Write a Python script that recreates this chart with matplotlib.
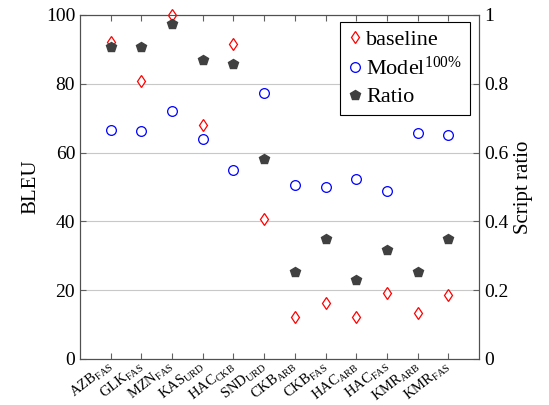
import numpy as np
import matplotlib
matplotlib.use("Agg")
import matplotlib.pyplot as plt

plt.rcParams['font.family'] = ['Liberation Serif', 'DejaVu Serif']
plt.rcParams['mathtext.fontset'] = 'custom'
plt.rcParams['mathtext.rm'] = 'Liberation Serif'
plt.rcParams['mathtext.it'] = 'Liberation Serif:italic'

# data
langs = ["AZB", "GLK", "MZN", "KAS", "HAC", "SND", "CKB", "CKB", "HAC", "HAC", "KMR", "KMR"]
subs = ["FAS", "FAS", "FAS", "URD", "CKB", "URD", "ARB", "FAS", "ARB", "FAS", "ARB", "FAS"]
baseline = [92.2, 80.8, 100.0, 68.0, 91.6, 40.8, 12.2, 16.3, 12.2, 19.2, 13.4, 18.7]
model = [66.6, 66.3, 72.2, 64.0, 55.0, 77.4, 50.7, 50.0, 52.4, 48.9, 65.7, 65.2]
ratio = [0.907, 0.907, 0.975, 0.868, 0.857, 0.581, 0.253, 0.349, 0.230, 0.317, 0.253, 0.349]

x = np.arange(1, len(langs) + 1)
labels = [r"%s$_{\mathrm{%s}}$" % (l, s) for l, s in zip(langs, subs)]

fig = plt.figure(figsize=(5.49, 4.05), dpi=100)
ax = fig.add_axes([0.1457, 0.1136, 0.7268, 0.8494])
ax2 = ax.twinx()

h1, = ax.plot(x, baseline, linestyle='none', marker='d', markersize=6, markerfacecolor='white',
              markeredgecolor='red', markeredgewidth=0.9, clip_on=False, zorder=3)
h2, = ax.plot(x, model, linestyle='none', marker='o', markersize=7, markerfacecolor='none',
              markeredgecolor='blue', markeredgewidth=0.9, clip_on=False, zorder=3)
h3, = ax2.plot(x, ratio, linestyle='none', marker='p', markersize=7, color='#404040', clip_on=False)

ax.set_xlim(0, 13)
ax.set_ylim(0, 100)
ax2.set_ylim(0, 1)
ax.set_yticks([0, 20, 40, 60, 80, 100])
ax2.set_yticks([0, 0.2, 0.4, 0.6, 0.8, 1])
ax2.set_yticklabels(["0", "0.2", "0.4", "0.6", "0.8", "1"])
ax.yaxis.grid(True, color='#c8c8c8', linewidth=0.8)
ax.set_axisbelow(True)

ax.set_xticks(x)
ax.set_xticklabels(labels, rotation=38, ha='right', va='center', rotation_mode='anchor', fontsize=10.5)
ax.tick_params(axis='x', direction='in', top=True, length=4, color='#606060', pad=4)
ax.tick_params(axis='y', direction='in', length=4, labelsize=14, color='#606060')
ax2.tick_params(axis='y', direction='in', length=4, labelsize=14, color='#606060')
ax.set_ylabel("BLEU", fontsize=15)
ax2.set_ylabel("Script ratio", fontsize=15)
for sp in ax.spines.values():
    sp.set_color('#505050')
for sp in ax2.spines.values():
    sp.set_color('#505050')

leg = ax2.legend([h1, h2, h3], ['baseline', r'Model$^{100\%}$', 'Ratio'], loc='upper right',
                 prop={'family': 'Liberation Serif', 'size': 16},
                 fancybox=False, edgecolor='black', framealpha=1,
                 handlelength=0.6, handletextpad=0.2, borderpad=0.35, labelspacing=0.3,
                 borderaxespad=0, bbox_to_anchor=(0.977, 0.98))
leg.get_frame().set_linewidth(0.8)

fig.savefig("out.png", dpi=100)
